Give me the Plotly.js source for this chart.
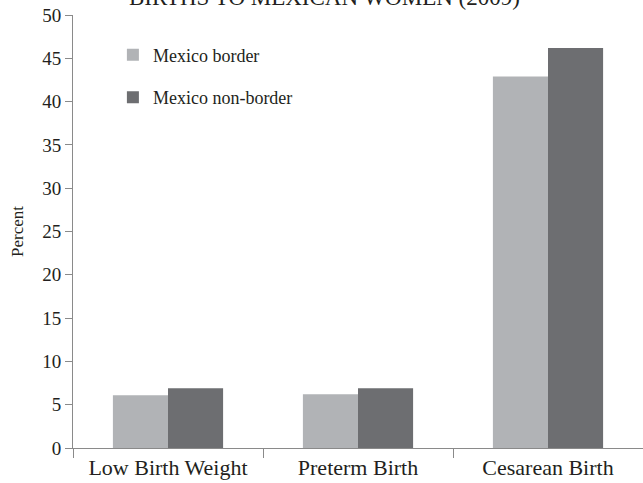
<!DOCTYPE html>
<html>
<head>
<meta charset="utf-8">
<script src="https://cdn.plot.ly/plotly-3.0.1.min.js"></script>
<style>html,body{margin:0;padding:0;background:#fff;}#chart{width:643px;height:483px;}</style>
</head>
<body>
<div id="chart"></div>
<script>
const categories = ["Low Birth Weight", "Preterm Birth", "Cesarean Birth"];
const seriesNames = ["Mexico border", "Mexico non-border"];
const borderValues = [6.1, 6.2, 42.9];
const nonBorderValues = [6.9, 6.9, 46.2];
const yTicks = [0, 5, 10, 15, 20, 25, 30, 35, 40, 45, 50];
const chartTitle = "BIRTHS TO MEXICAN WOMEN (2009)";

const FONT = "Liberation Serif, Times New Roman, serif";

const traces = [
  {type: "bar", name: seriesNames[0], x: categories, y: borderValues,
   marker: {color: "#b1b3b6"}, legendgroup: "a", hoverinfo: "skip"},
  {type: "bar", name: seriesNames[1], x: categories, y: nonBorderValues,
   marker: {color: "#6d6e71"}, legendgroup: "b", hoverinfo: "skip"}
];

const layout = {
  width: 643, height: 483,
  margin: {l: 73, r: 0, t: 15, b: 35, pad: 0},
  paper_bgcolor: "#fff", plot_bgcolor: "#fff",
  font: {family: FONT, color: "#231f20"},
  annotations: [{text: chartTitle, xref: "paper", yref: "paper", x: 0.442, y: 1.006,
                 xanchor: "center", yanchor: "bottom", showarrow: false,
                 font: {family: FONT, size: 23, color: "#231f20"}}],
  barmode: "group", bargap: 0.42, bargroupgap: 0,
  showlegend: true,
  legend: {x: 0.07, y: 0.95, xanchor: "left", yanchor: "top", bgcolor: "rgba(0,0,0,0)",
           font: {family: FONT, size: 18, color: "#231f20"}, traceorder: "grouped",
           tracegroupgap: 16, itemwidth: 30},
  xaxis: {type: "category", range: [-0.5, 2.5], showline: true, linecolor: "#8a8a8a", linewidth: 1,
          ticks: "outside", tickson: "boundaries", ticklen: 9, tickcolor: "#8a8a8a",
          tickfont: {family: FONT, size: 22, color: "#231f20"}, showgrid: false, zeroline: false,
          fixedrange: true},
  yaxis: {range: [0, 50], tickvals: yTicks, ticktext: yTicks.map(String), showline: true,
          linecolor: "#8a8a8a", linewidth: 1, ticks: "outside", ticklen: 7, tickcolor: "#8a8a8a",
          tickfont: {family: FONT, size: 19, color: "#231f20"}, showgrid: false, zeroline: false,
          title: {text: "Percent", font: {family: FONT, size: 17, color: "#231f20"}, standoff: 14},
          fixedrange: true}
};

Plotly.newPlot("chart", traces, layout, {displayModeBar: false, staticPlot: true});
</script>
</body>
</html>
